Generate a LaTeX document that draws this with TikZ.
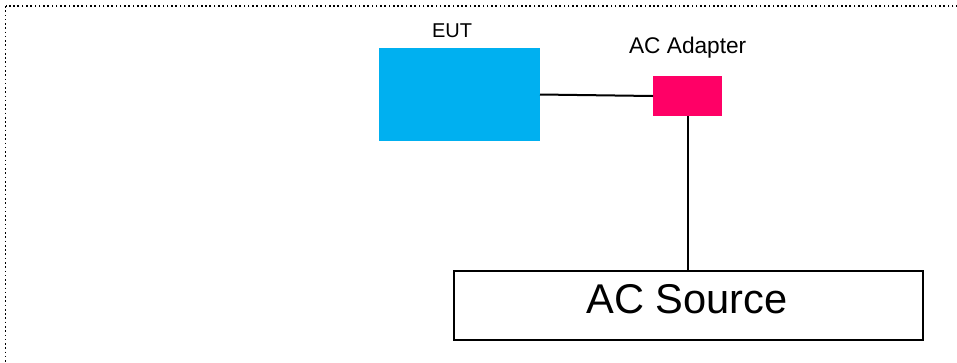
\documentclass[tikz,border=0pt]{standalone}
\usepackage{fontspec}
\setmainfont{Liberation Sans}
\definecolor{eutblue}{HTML}{00B0F0}
\definecolor{adpink}{HTML}{FF0066}
\begin{document}
\begin{tikzpicture}[x=0.75pt,y=-0.75pt,
  fillbox/.style={draw=none,inner sep=0pt,outer sep=0pt},
  srcbox/.style={draw=black,line width=1.5pt,inner sep=0pt,outer sep=0pt,fill=white},
  wire/.style={draw=black,line width=1.5pt},
  lbl/.style={inner sep=0pt,anchor=base}]
\useasboundingbox (0,0) rectangle (957,362);
\begin{scope}
\clip (0,0) rectangle (957,362);
\draw[line width=1.2pt,dash pattern=on 1.2pt off 2pt] (5.5,6) rectangle (990,400);
\end{scope}
\node[fillbox,fill=eutblue,minimum width=161*0.75pt,minimum height=93*0.75pt] (eut) at (459.5,94.5) {};
\node[fillbox,fill=adpink,minimum width=69*0.75pt,minimum height=40*0.75pt] (ad) at (687.5,96) {};
\node[srcbox,minimum width=469*0.75pt,minimum height=69*0.75pt] (src) at (688,305.5) {};
\node[lbl,font=\fontsize{15}{18}\selectfont] (eutl) at (452,37.7) {EUT};
\node[lbl,font=\fontsize{17}{20}\selectfont] (adl) at (687.7,53) {AC Adapter};
\node[lbl,font=\fontsize{31.2}{36}\selectfont] (srcl) at (687,313) {AC Source};
\draw[wire] (eut.east) -- (ad.west);
\draw[wire] (ad.south) -- (ad.south |- src.north);
\end{tikzpicture}
\end{document}
